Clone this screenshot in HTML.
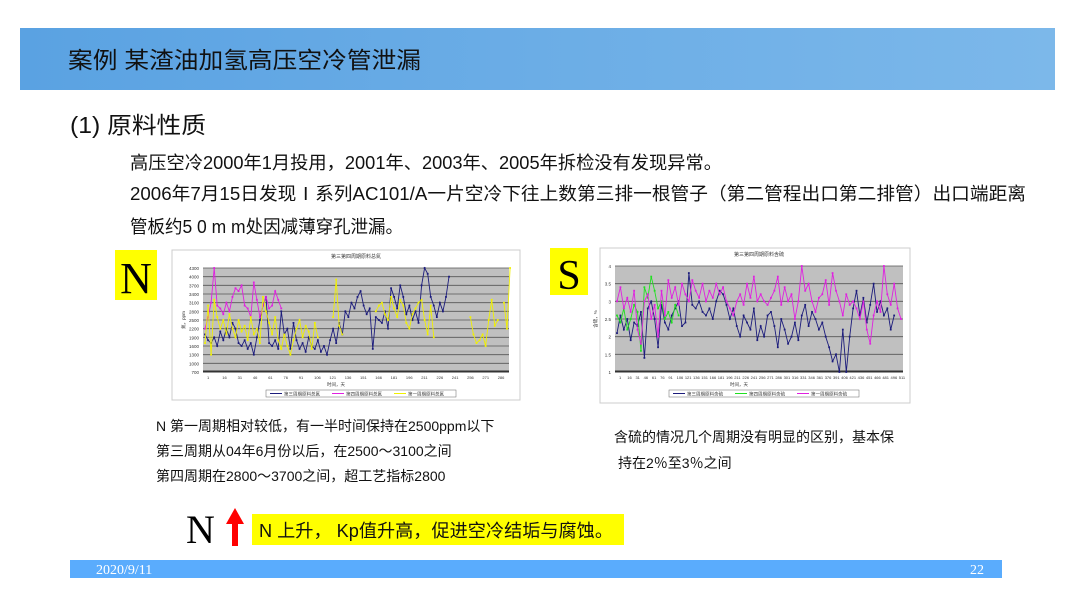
<!DOCTYPE html>
<html><head><meta charset="utf-8"><style>
html,body{margin:0;padding:0;background:#fff;}
body{width:1080px;height:607px;overflow:hidden;position:relative;font-family:"Liberation Sans","Noto Sans CJK SC",sans-serif;}
svg text{font-family:"Liberation Sans","Noto Sans CJK SC",sans-serif;}
</style></head><body>
<svg id="slide" width="1080" height="607" viewBox="0 0 1080 607" xmlns="http://www.w3.org/2000/svg">
<defs>
<linearGradient id="hg" x1="0" x2="1" y1="0" y2="0"><stop offset="0" stop-color="#5aa2e2"/><stop offset="1" stop-color="#7cb8ea"/></linearGradient>
</defs>
<rect x="20" y="28" width="1035" height="62" fill="url(#hg)"/>
<text x="68" y="68" font-size="23" fill="#111" textLength="353" lengthAdjust="spacingAndGlyphs">案例  某渣油加氢高压空冷管泄漏</text>
<text x="70" y="133" font-size="23" fill="#111" textLength="136" lengthAdjust="spacingAndGlyphs">(1) 原料性质</text>
<text x="130" y="169" font-size="18" fill="#111" textLength="592" lengthAdjust="spacingAndGlyphs">高压空冷2000年1月投用，2001年、2003年、2005年拆检没有发现异常。</text>
<text x="130" y="200" font-size="18" fill="#111" textLength="896" lengthAdjust="spacingAndGlyphs">2006年7月15日发现Ⅰ系列AC101/A一片空冷下往上数第三排一根管子（第二管程出口第二排管）出口端距离</text>
<text x="130" y="233" font-size="18" fill="#111" textLength="273" lengthAdjust="spacingAndGlyphs">管板约5 0 m m处因减薄穿孔泄漏。</text>

<rect x="115" y="250" width="42" height="50" fill="#ffff00"/>
<text x="136" y="293" font-size="44" text-anchor="middle" font-family="Liberation Serif,serif" style="font-family:'Liberation Serif',serif">N</text>
<rect x="550" y="248" width="38" height="47" fill="#ffff00"/>
<text x="569" y="289" font-size="42" text-anchor="middle" style="font-family:'Liberation Serif',serif">S</text>

<g id="chartN"></g>
<g id="chartS"></g>

<text x="156" y="431" font-size="14" fill="#111">N 第一周期相对较低，有一半时间保持在2500ppm以下</text>
<text x="156" y="456" font-size="14" fill="#111">第三周期从04年6月份以后，在2500～3100之间</text>
<text x="156" y="481" font-size="14" fill="#111">第四周期在2800～3700之间，超工艺指标2800</text>
<text x="614" y="442" font-size="14" fill="#111">含硫的情况几个周期没有明显的区别，基本保</text>
<text x="618" y="468" font-size="14" fill="#111">持在2％至3％之间</text>

<text x="186" y="543" font-size="40" style="font-family:'Liberation Serif',serif">N</text>
<polygon points="235,508 244,524 238,524 238,546 232,546 232,524 226,524" fill="#ff0000"/>
<rect x="252" y="514" width="372" height="31" fill="#ffff00"/>
<text x="259" y="537" font-size="18" fill="#111" textLength="354" lengthAdjust="spacingAndGlyphs">N 上升， Kp值升高，促进空冷结垢与腐蚀。</text>

<rect x="70" y="560" width="932" height="18" fill="#5aacfd"/>
<text x="96" y="574" font-size="14" fill="#fff" style="font-family:'Liberation Serif',serif">2020/9/11</text>
<text x="970" y="574" font-size="14" fill="#fff" style="font-family:'Liberation Serif',serif">22</text>
</svg>
<script>
// ---- N chart data ----
const nLen = 100;
const nBlue = [2000,1800,1700,1900,1600,2100,1800,2200,1900,2400,2200,1700,1600,1800,1500,1700,1300,1900,2500,3000,3300,1700,1600,1800,1500,2800,2000,2200,1500,2400,1800,1500,1700,1400,1900,1600,1500,1800,1400,1600,1300,1800,2200,1700,2400,2000,2800,2600,3100,2900,3300,3500,3000,2700,2900,1500,2600,2500,2400,2800,2200,3600,3300,2900,3700,3300,2700,3000,2500,2800,2400,3700,4300,4100,3300,3000,2600,3100,2800,3300,4000];
const nPink = [2200,2600,3100,4300,3000,2900,2700,3100,2800,3300,3600,3500,3700,3000,2900,2600,3800,3200,2600,3000,3300,2900,3000,3500,3200,2900];
const nYellow = [1700,3000,1300,3200,2600,2200,2500,2000,2700,2200,1900,2500,2100,2300,1800,2600,2000,2200,1700,3300,2800,2400,2000,2600,1800,1500,2000,1600,1300,1800,2200,2500,1900,2300,2100,1500,2400,1900,null,null,null,null,2600,3900,2300,2000,null,null,null,null,null,null,null,null,null,null,2800,3000,3100,2700,2500,3300,2900,2600,3200,3000,2400,2200,2700,2900,3100,3200,2500,2000,3000,1900,null,null,null,null,null,null,null,null,null,null,null,2600,2000,1700,1800,2000,1600,2500,3200,2300,2500,null,3100,2200,4300];
const nTicks = [700,1000,1300,1600,1900,2200,2500,2800,3100,3400,3700,4000,4300];
// ---- S chart data ----
const sLen = 84;
const sBlue = [2.1,2.6,2.2,2.5,1.9,2.4,2.3,2.7,1.4,2.8,3.0,2.5,1.7,2.9,2.4,2.2,2.6,2.8,3.0,2.3,2.4,3.8,2.9,2.8,3.0,2.7,2.6,2.8,2.5,3.0,3.3,3.2,2.9,2.5,2.8,2.3,2.0,2.6,2.4,2.2,2.8,1.9,2.3,2.0,2.6,2.7,2.3,1.7,2.5,2.2,1.8,2.0,2.4,1.9,2.6,2.9,2.3,2.7,2.5,2.2,2.4,2.0,1.7,1.3,1.5,1.0,2.2,1.0,2.0,2.8,3.3,2.6,3.1,2.4,2.9,3.5,2.7,3.0,2.6,2.8,2.2,2.6];
const sGreen = [2.6,2.4,2.8,2.2,2.5,2.9,2.7,1.6,3.4,3.1,3.7,3.3,2.8,3.0,2.5,2.7,2.4,2.9,2.6];
const sPink = [3.0,3.4,2.8,3.1,2.7,3.3,2.2,1.8,3.0,3.2,2.5,2.9,2.0,3.3,2.6,3.6,3.1,3.4,2.9,3.5,3.2,3.0,3.6,3.3,3.1,3.5,3.0,3.3,3.1,3.5,3.2,3.4,3.0,2.8,2.6,3.0,3.2,2.9,3.5,3.1,3.7,3.0,3.2,3.0,2.9,3.1,3.3,3.7,2.9,3.4,3.0,3.2,2.5,3.0,4.0,3.3,3.5,3.0,2.7,3.1,3.2,3.6,2.9,3.8,3.3,3.0,2.6,3.2,2.9,3.0,2.8,2.5,3.0,2.2,1.8,2.6,3.0,2.7,4.0,3.2,2.9,3.5,2.8,2.5];
const sTicks = [1,1.5,2,2.5,3,3.5,4];

const NS='http://www.w3.org/2000/svg';
function mk(tag, attrs, parent){const e=document.createElementNS(NS,tag);for(const k in attrs)e.setAttribute(k,attrs[k]);parent.appendChild(e);return e;}

function drawChart(g, box, plot, yMin, yMax, len, ticks, series, title, yLabel, legendNames, xLabels){
  const frame = mk('rect',{x:box.x,y:box.y,width:box.w,height:box.h,fill:'#fff',stroke:'#ccc','stroke-width':1},g);
  
  
  const bg = mk('rect',{x:plot.x,y:plot.y,width:plot.w,height:plot.h,fill:'#c0c0c0'},g);
  
  
  const ys = v => plot.y + plot.h - (v - yMin)/(yMax - yMin)*plot.h;
  const xs = i => plot.x + 2 + i/(len-1)*(plot.w-4);
  ticks.forEach(t=>{
    const l = mk('line',{x1:plot.x,x2:plot.x+plot.w,y1:ys(t),y2:ys(t),stroke:'#555','stroke-width':0.8},g);
    
    
    const tx = mk('text',{x:plot.x-4,y:ys(t)+2,'font-size':4.5,'text-anchor':'end',fill:'#333'},g);
    tx.textContent = t;
    
    
  });
  const base = mk('rect',{x:plot.x,y:plot.y+plot.h-1.5,width:plot.w,height:2,fill:'#333'},g);
  
  
  for(let i=0;i<xLabels;i++){
    const tx = mk('text',{x:plot.x+4+i*(plot.w/xLabels),y:plot.y+plot.h+7,'font-size':4,fill:'#333'},g);
    tx.textContent = String(1+i*15);
    
    
  }
  series.forEach(s=>{
    let seg=[];
    const flush=()=>{ if(seg.length>1){
      const p = mk('polyline',{points:seg.join(' '),fill:'none',stroke:s.color,'stroke-width':0.9},g);
      
      
    } seg=[]; };
    s.data.forEach((v,i)=>{
      if(v===null){flush();return;}
      seg.push(xs(i+s.off).toFixed(1)+','+ys(v).toFixed(1));
      const d = mk('rect',{x:xs(i+s.off)-0.9,y:ys(v)-0.9,width:1.8,height:1.8,fill:s.color},g);
      
      
    });
    flush();
  });
  const tt = mk('text',{x:plot.x+plot.w/2,y:box.y+8,'font-size':5,'text-anchor':'middle',fill:'#333'},g);
  tt.textContent = title;
  
  
  const yl = mk('text',{x:plot.x-18,y:plot.y+plot.h/2,'font-size':4.5,fill:'#333',transform:'rotate(-90 '+(plot.x-18)+' '+(plot.y+plot.h/2)+')','text-anchor':'middle'},g);
  yl.textContent = yLabel;
  
  
  const xl = mk('text',{x:plot.x+plot.w/2-20,y:plot.y+plot.h+14,'font-size':4.5,'text-anchor':'middle',fill:'#333'},g);
  xl.textContent = '时间，天';
  
  
  const lx = plot.x+plot.w/2-130+40, ly = plot.y+plot.h+18;
  const lb = mk('rect',{x:lx,y:ly,width:190,height:7,fill:'#fff',stroke:'#666','stroke-width':0.5},g);
  
  
  series.forEach((s,k)=>{
    const ll = mk('line',{x1:lx+4+k*62,x2:lx+16+k*62,y1:ly+3.5,y2:ly+3.5,stroke:s.color,'stroke-width':1},g);
    
    
    const lt = mk('text',{x:lx+18+k*62,y:ly+5.5,'font-size':4.5,fill:'#333'},g);
    lt.textContent = legendNames[k];
    
    
  });
}

drawChart(document.getElementById('chartN'),{x:172,y:250,w:348,h:150},{x:203,y:268,w:306,h:104},700,4300,nLen,nTicks,
  [{data:nBlue,color:'#1c1c7c',off:0},{data:nPink,color:'#e020e0',off:0},{data:nYellow,color:'#f0f000',off:0}],
  '第三第四周期原料总氮','氮，ppm',['第三周期原料总氮','第四周期原料总氮','第一周期原料总氮'],20);
drawChart(document.getElementById('chartS'),{x:600,y:248,w:310,h:155},{x:615,y:266,w:288,h:106},1,4,sLen,sTicks,
  [{data:sBlue,color:'#1c1c7c',off:0},{data:sGreen,color:'#20e020',off:0},{data:sPink,color:'#e020e0',off:0}],
  '第三第四周期原料含硫','含硫，%',['第三周期原料含硫','第四周期原料含硫','第一周期原料含硫'],35);
</script>
</body></html>
